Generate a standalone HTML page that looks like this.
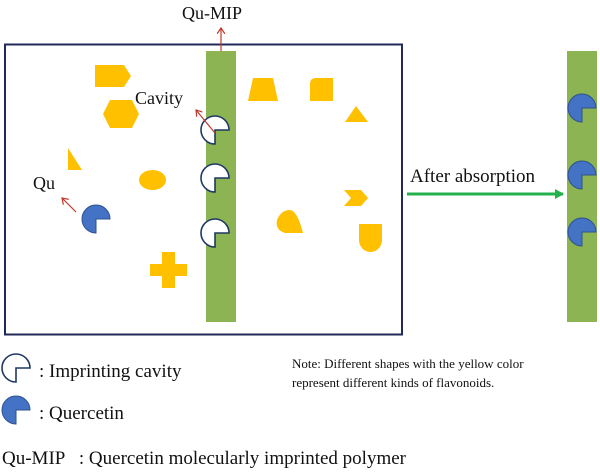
<!DOCTYPE html>
<html><head><meta charset="utf-8"><style>
html,body{margin:0;padding:0;background:#fff;width:600px;height:472px;overflow:hidden}
svg{display:block}
text{font-family:"Liberation Serif",serif;fill:#111;white-space:pre}
</style></head><body>
<svg width="600" height="472" viewBox="0 0 600 472">
<defs>
<marker id="ra" markerWidth="8" markerHeight="8" refX="6" refY="4" orient="auto" markerUnits="userSpaceOnUse"><path d="M0,0 L6,4 L0,8" fill="none" stroke="#c0392b" stroke-width="1.2"/></marker>
<marker id="ga" markerWidth="10" markerHeight="10" refX="8" refY="5" orient="auto" markerUnits="userSpaceOnUse"><path d="M0,0 L9,5 L0,10 Z" fill="#22b14c"/></marker>
</defs>
<rect x="5" y="44.5" width="397" height="290" fill="none" stroke="#1f2a5a" stroke-width="2"/>
<rect x="206" y="51" width="30" height="271" fill="#8db452"/>
<rect x="567" y="51" width="30" height="271" fill="#8db452"/>
<g fill="#ffc000">
<polygon points="95,65 124,65 131,76 124,87 95,87"/>
<polygon points="110,100 132,100 139,114 132,128 110,128 103,114"/>
<polygon points="68,148 82,170 68,170"/>
<ellipse cx="152.5" cy="180" rx="13.5" ry="10"/>
<polygon points="162,252 175,252 175,264 187,264 187,276 175,276 175,288 162,288 162,276 150,276 150,264 162,264"/>
<polygon points="253,78 273,78 278,101 248,101"/>
<path d="M316,78 H333 V101 H310 V84 Q310,78 316,78 Z"/>
<polygon points="356,106 368,122 345,122"/>
<polygon points="344,190 361,190 368,198 361,206 344,206 351,198"/>
<path d="M290,210 Q297,210 303,233 L285,233 Q275,230 277,220 Q281,210 290,210 Z"/>
<path d="M359,224 H382 V240 A11.5,12 0 1 1 359,240 Z"/>
</g>
<g fill="#fff" stroke="#1f3864" stroke-width="1.6">
<path d="M215,130 L229,130 A14,14 0 1 0 215,144 Z"/>
<path d="M215,178 L229,178 A14,14 0 1 0 215,192 Z"/>
<path d="M215,233 L229,233 A14,14 0 1 0 215,247 Z"/>
<path d="M16,368 L30,368 A14,14 0 1 0 16,382 Z"/>
</g>
<g fill="#4472c4" stroke="#2f528f" stroke-width="1">
<path d="M96,219 L110,219 A14,14 0 1 0 96,233 Z"/>
<path d="M582,108 L596,108 A14,14 0 1 0 582,122 Z"/>
<path d="M582,175 L596,175 A14,14 0 1 0 582,189 Z"/>
<path d="M582,232 L596,232 A14,14 0 1 0 582,246 Z"/>
<path d="M16,410 L30,410 A14,14 0 1 0 16,424 Z"/>
</g>
<g stroke="#c0392b" stroke-width="1.2" fill="none" marker-end="url(#ra)">
<line x1="221" y1="51" x2="221" y2="28"/>
<line x1="215" y1="133" x2="196" y2="110"/>
<line x1="76" y1="212" x2="62" y2="198"/>
</g>
<line x1="407" y1="194" x2="563" y2="194" stroke="#22b14c" stroke-width="3" marker-end="url(#ga)"/>
<text x="182" y="19" font-size="18">Qu-MIP</text>
<text x="135" y="104" font-size="18">Cavity</text>
<text x="33" y="189" font-size="18">Qu</text>
<text x="410" y="182" font-size="19">After absorption</text>
<text x="39" y="377" font-size="19">: Imprinting cavity</text>
<text x="39" y="419" font-size="19">: Quercetin</text>
<text x="292" y="368" font-size="13">Note: Different shapes with the yellow color</text>
<text x="292" y="387" font-size="13">represent different kinds of flavonoids.</text>
<text x="2" y="464" font-size="19" xml:space="preserve">Qu-MIP   : Quercetin molecularly imprinted polymer</text>
</svg>
</body></html>
